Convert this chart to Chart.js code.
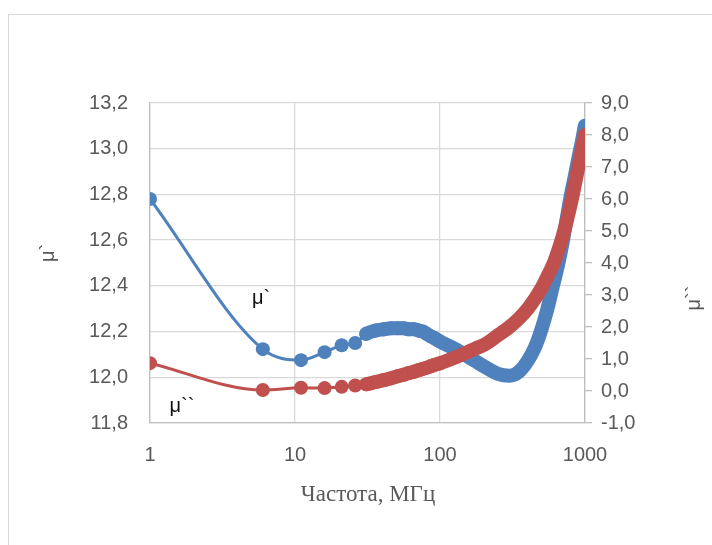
<!DOCTYPE html>
<html>
<head>
<meta charset="utf-8">
<script src="https://cdn.jsdelivr.net/npm/chart.js@4"></script>
<style>
  body { margin: 0; background: #fff; }
  #frame { position: absolute; left: 8px; top: 14px; width: 760px; height: 600px; border: 1px solid #d9d9d9; }
  #wrap { position: absolute; left: 0; top: 0; width: 712px; height: 545px; }
</style>
</head>
<body>
<div id="frame"></div>
<div id="wrap"><canvas id="myChart"></canvas></div>
<script>
// частота, МГц
const freq = [1, 6, 11, 16, 21, 26, 31, 36, 41, 46, 51, 56, 61, 66, 71, 76, 81, 86, 91, 96, 101,
  126, 151, 176, 201, 251, 301, 351, 401, 451, 501, 551, 601, 651, 701, 751, 801, 851, 901, 951, 996]
// μ` (левая ось)
const muReal = [12.78, 12.123, 12.075, 12.11, 12.14, 12.15, 12.19, 12.205, 12.21, 12.215, 12.215, 12.215, 12.21, 12.21, 12.205, 12.2, 12.19, 12.18, 12.172, 12.163, 12.155,
  12.125, 12.095, 12.07, 12.048, 12.015, 12.007, 12.025, 12.07, 12.13, 12.21, 12.30, 12.40, 12.49, 12.59, 12.70, 12.80, 12.88, 12.96, 13.03, 13.10]
// μ`` (правая ось)
const muImag = [0.87, 0.03, 0.10, 0.09, 0.13, 0.17, 0.21, 0.28, 0.34, 0.40, 0.46, 0.51, 0.56, 0.60, 0.65, 0.69, 0.73, 0.77, 0.81, 0.84, 0.875,
  1.04, 1.19, 1.33, 1.44, 1.74, 2.0, 2.27, 2.56, 2.88, 3.21, 3.58, 3.94, 4.37, 4.83, 5.34, 5.88, 6.45, 7.01, 7.54, 8.0]

const xTicks = [1, 10, 100, 1000]
const xTitle = 'Частота, МГц'
const yTitle = 'μ`'
const y1Title = 'μ``'

const blue = '#4f81bd'
const red = '#c0504d'
const gridColor = '#d9d9d9'
const labelColor = '#595959'
const tickFont = { family: 'Liberation Sans', size: 20 }

const comma = v => v.toFixed(1).replace('.', ',')

const texts = {
  id: 'texts',
  afterDraw(chart) {
    const c = chart.ctx
    c.save()
    c.textAlign = 'center'
    c.textBaseline = 'middle'
    c.fillStyle = labelColor
    c.font = '20px "Liberation Sans"'
    c.save(); c.translate(48, 253); c.rotate(-Math.PI / 2); c.fillText(yTitle, 0, 0); c.restore()
    c.save(); c.translate(694, 298); c.rotate(-Math.PI / 2); c.fillText(y1Title, 0, 0); c.restore()
    c.font = '23px "Liberation Serif"'
    c.fillText(xTitle, 368, 495)
    c.fillStyle = '#111'
    c.font = '20px "Liberation Sans"'
    c.fillText(yTitle, 261, 298)
    c.fillText(y1Title, 182, 406)
    c.restore()
  }
}

function series(label, values, color, axis, order) {
  return {
    label: label,
    data: freq.map((f, i) => ({ x: f, y: values[i] })),
    yAxisID: axis,
    order: order,
    borderColor: color,
    backgroundColor: color,
    borderWidth: 3,
    borderCapStyle: 'round',
    borderJoinStyle: 'round',
    cubicInterpolationMode: 'monotone',
    pointRadius: ctx => (ctx.raw && ctx.raw.x <= 101 ? 7 : 0),
    pointBorderWidth: 0,
    pointBackgroundColor: color,
    segment: {
      borderWidth: ctx => (ctx.p0.parsed.x >= 31 ? 14 : 3)
    }
  }
}

const ctx = document.getElementById('myChart')

const myChart = new Chart(ctx, {
  type: 'line',
  data: {
    datasets: [
      series('μ`', muReal, blue, 'y', 2),
      series('μ``', muImag, red, 'y1', 1)
    ]
  },
  options: {
    responsive: true,
    maintainAspectRatio: false,
    animation: false,
    layout: { padding: { left: 0, right: 0, top: 103, bottom: 0 } },
    plugins: {
      legend: { display: false },
      tooltip: { enabled: false }
    },
    scales: {
      x: {
        type: 'logarithmic',
        min: 1,
        max: 1000,
        afterBuildTicks: s => { s.ticks = xTicks.map(v => ({ value: v })) },
        afterFit: s => { s.height = 122 },
        ticks: { font: tickFont, color: labelColor, padding: 20, maxRotation: 0, callback: v => String(v) },
        grid: { color: gridColor, lineWidth: 1.3, drawTicks: false },
        border: { color: '#bfbfbf', width: 1.3 }
      },
      y: {
        position: 'left',
        min: 11.8,
        max: 13.2,
        afterFit: s => { s.width = 150 },
        ticks: { stepSize: 0.2, font: tickFont, color: labelColor, padding: 22, callback: v => comma(v) },
        grid: { color: gridColor, lineWidth: 1.3, drawTicks: false },
        border: { color: '#bfbfbf', width: 1.3 }
      },
      y1: {
        position: 'right',
        min: -1,
        max: 9,
        afterFit: s => { s.width = 127 },
        ticks: { stepSize: 1, font: tickFont, color: labelColor, padding: 9, callback: v => comma(v) },
        grid: { drawOnChartArea: false, color: '#bfbfbf', lineWidth: 1.3, tickLength: 7 },
        border: { color: '#bfbfbf', width: 1.3 }
      }
    }
  },
  plugins: [texts]
})
</script>
</body>
</html>
